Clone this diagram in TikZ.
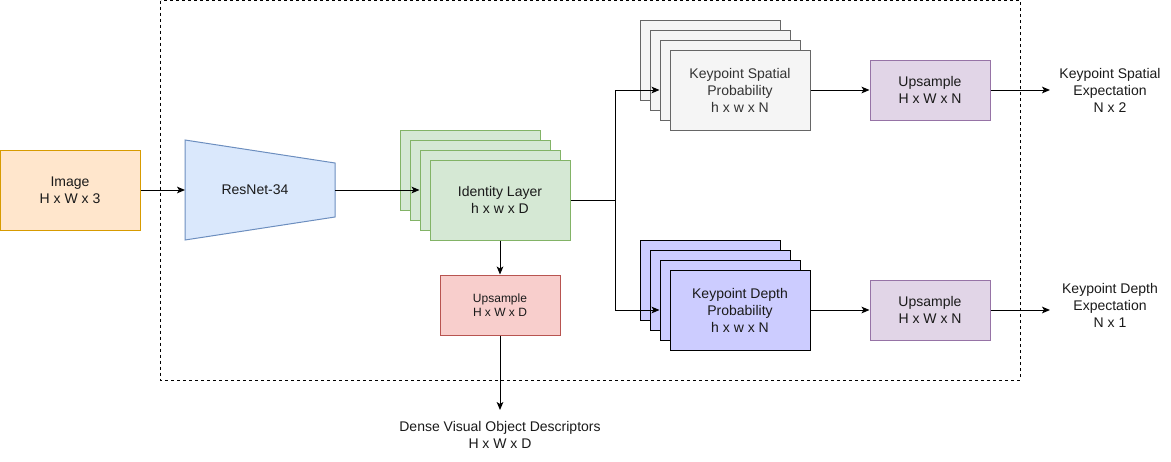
\documentclass[tikz,border=0pt]{standalone}
\usepackage{fontspec}
\setmainfont{Liberation Sans}
\usetikzlibrary{arrows.meta}
\definecolor{imgfill}{HTML}{FFE6CC}\definecolor{imgdraw}{HTML}{D79B00}
\definecolor{resfill}{HTML}{DAE8FC}\definecolor{resdraw}{HTML}{6C8EBF}
\definecolor{grnfill}{HTML}{D5E8D4}\definecolor{grndraw}{HTML}{82B366}
\definecolor{redfill}{HTML}{F8CECC}\definecolor{reddraw}{HTML}{B85450}
\definecolor{gryfill}{HTML}{F5F5F5}\definecolor{grydraw}{HTML}{666666}\definecolor{grytext}{HTML}{333333}
\definecolor{blufill}{HTML}{CCCCFF}
\definecolor{purfill}{HTML}{E1D5E7}\definecolor{purdraw}{HTML}{9673A6}
\definecolor{txt}{HTML}{1A1A1A}
\tikzset{
  box/.style={draw, line width=0.75pt, inner sep=0pt, align=center, font=\fontsize{10.5}{12.75}\selectfont, text=txt},
  arr/.style={line width=0.75pt, -{Stealth[length=6pt,width=5pt,inset=1.5pt]}},
  ln/.style={line width=0.75pt},
  lbl/.style={align=center, font=\fontsize{10.5}{12.75}\selectfont, text=txt, inner sep=0pt},
}
\begin{document}
\begin{tikzpicture}[x=0.75pt,y=-0.75pt]
\useasboundingbox (0,0) rectangle (1171,461);
% frame
\draw[dash pattern=on 2.25pt off 2.25pt, line width=0.75pt] (160.5,0.5) rectangle (1020,380);
% image
\node[box, fill=imgfill, draw=imgdraw, minimum width=105pt, minimum height=60pt] (img) at (70,190) {Image\\H x W x 3};
% resnet
\draw[line width=0.75pt, fill=resfill, draw=resdraw] (185,140) -- (335,163) -- (335,217) -- (185,240) -- cycle;
\coordinate (resL) at (185,190);
\coordinate (resR) at (335,190);
\node[lbl] (res) at (255,190) {ResNet-34};
% green stack
\foreach \i in {0,1,2} {
  \node[box, fill=grnfill, draw=grndraw, minimum width=105pt, minimum height=60pt] (g\i) at (470+10*\i,170+10*\i) {};
}
\node[box, fill=grnfill, draw=grndraw, minimum width=105pt, minimum height=60pt] (id) at (500,200) {Identity Layer\\h x w x D};
% red upsample
\node[box, fill=redfill, draw=reddraw, minimum width=90pt, minimum height=45pt, font=\fontsize{9}{11}\selectfont] (up) at (500,305) {Upsample\\H x W x D};
\node[lbl] (dense) at (500,435) {Dense Visual Object Descriptors\\H x W x D};
% gray stack
\foreach \i in {0,1,2} {
  \node[box, fill=gryfill, draw=grydraw, minimum width=105pt, minimum height=60pt] (s\i) at (710+10*\i,60+10*\i) {};
}
\node[box, fill=gryfill, draw=grydraw, text=grytext, minimum width=105pt, minimum height=60pt] (sp) at (740,90) {Keypoint Spatial\\Probability\\h x w x N};
% blue stack
\foreach \i in {0,1,2} {
  \node[box, fill=blufill, draw=black, minimum width=105pt, minimum height=60pt] (d\i) at (710+10*\i,280+10*\i) {};
}
\node[box, fill=blufill, draw=black, minimum width=105pt, minimum height=60pt] (dp) at (740,310) {Keypoint Depth\\Probability\\h x w x N};
% purple upsample
\node[box, fill=purfill, draw=purdraw, minimum width=90pt, minimum height=45pt] (us) at (930,90) {Upsample\\H x W x N};
\node[box, fill=purfill, draw=purdraw, minimum width=90pt, minimum height=45pt] (ud) at (930,310) {Upsample\\H x W x N};
% outputs
\node[lbl] (se) at (1110,90) {Keypoint Spatial\\Expectation\\N x 2};
\node[lbl] (de) at (1110,305) {Keypoint Depth\\Expectation\\N x 1};
\coordinate (seA) at (1050,90);
\coordinate (deA) at (1050,310);
% connectors
\draw[arr] (img.east) -- (resL);
\draw[arr] (resR) -- (g2.west |- resR);
\draw[arr] (id.south) -- (up.north);
\draw[arr] (up.south) -- (500,410);
\coordinate (br) at (615,200);
\draw[ln] (id.east) -- (br);
\draw[arr] (br) |- (s2.west |- sp.west);
\draw[arr] (br) |- (d2.west |- dp.west);
\draw[arr] (sp.east) -- (us.west);
\draw[arr] (dp.east) -- (ud.west);
\draw[arr] (us.east) -- (seA);
\draw[arr] (ud.east) -- (deA);
\end{tikzpicture}
\end{document}
